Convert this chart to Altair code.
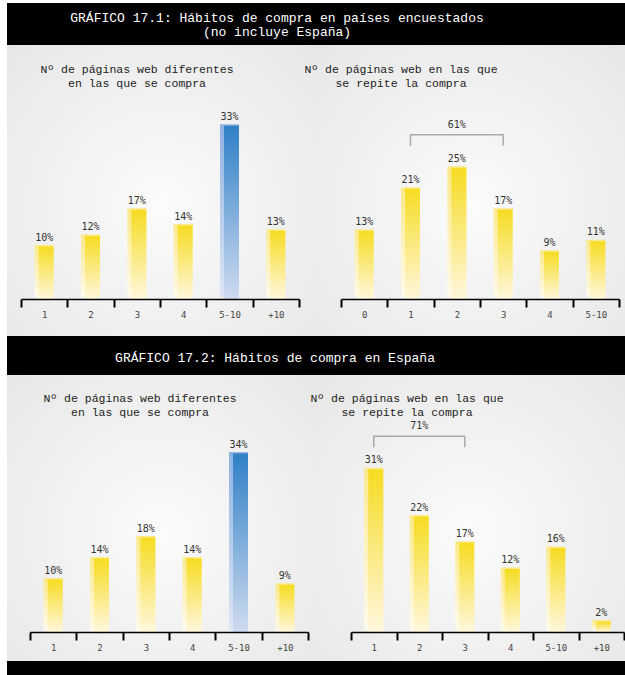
import altair as alt
import pandas as pd

# ---------------- data ----------------
cats_a = ["1", "2", "3", "4", "5-10", "+10"]
vals_a = [10, 12, 17, 14, 33, 13]
cats_b = ["0", "1", "2", "3", "4", "5-10"]
vals_b = [13, 21, 25, 17, 9, 11]
cats_c = ["1", "2", "3", "4", "5-10", "+10"]
vals_c = [10, 14, 18, 14, 34, 9]
cats_d = ["1", "2", "3", "4", "5-10", "+10"]
vals_d = [31, 22, 17, 12, 16, 2]
highlight_a = "5-10"
highlight_c = "5-10"
bracket_b = ("1", "3", "61%")
bracket_d = ("1", "3", "71%")

title_1 = ["GRÁFICO 17.1: Hábitos de compra en países encuestados", "(no incluye España)"]
title_2 = ["GRÁFICO 17.2: Hábitos de compra en España"]
sub_left = ["Nº de páginas web diferentes", "en las que se compra"]
sub_right = ["Nº de páginas web en las que", "se repite la compra"]

# ---------------- style ----------------
FONT_T = "Liberation Mono"
FONT_V = "DejaVu Sans Mono"
PX = 5.25
W = 309
WF = 618


def grad(c0, c1):
    return alt.LinearGradient(
        gradient="linear",
        stops=[alt.GradientStop(offset=0, color=c0), alt.GradientStop(offset=1, color=c1)],
        x1=0, x2=0, y1=0, y2=1,
    )


Y_FRONT = grad("#f6dc22", "#fff7dd")
Y_BACK = grad("#fbe98a", "#fffbec")
B_FRONT = grad("#2f80c6", "#cfdbf0")
B_BACK = grad("#8fb2e2", "#dde6f5")

BG = alt.RadialGradient(
    gradient="radial",
    stops=[alt.GradientStop(offset=0, color="#fbfbfb"), alt.GradientStop(offset=1, color="#e6e6e6")],
    x1=0.5, y1=0.55, r1=0, x2=0.5, y2=0.55, r2=0.75,
)

one = pd.DataFrame({"k": [0]})


def rect(w, h, fill):
    return alt.Chart(one).mark_rect(color=fill).encode(
        x=alt.value(0), x2=alt.value(w), y=alt.value(0), y2=alt.value(h)
    )


def text_line(t, x, y, font, size, color):
    return alt.Chart(one).mark_text(
        text=t, font=font, fontSize=size, color=color, align="center", baseline="middle"
    ).encode(x=alt.value(x), y=alt.value(y))


def panel(cats, vals, hi, h, base, xr, sub, sub_x, sub_y, bracket=None):
    df = pd.DataFrame({"cat": cats, "val": vals})
    df["lab"] = [f"{v}%" for v in vals]
    df["hi"] = [c == hi for c in cats]
    xs = alt.Scale(domain=cats, range=xr, paddingInner=0, paddingOuter=0)
    ys = alt.Scale(domain=[0, 40], range=[base, base - 40 * PX])
    axis = alt.Axis(
        title=None, orient="bottom", offset=-(h - base), labelAngle=0,
        domainColor="black", domainWidth=1.5, tickColor="black", tickWidth=2,
        tickSize=8, tickBand="extent", labelFont=FONT_V, labelFontSize=9,
        labelColor="#444", labelPadding=3, labelOverlap=False, grid=False, zindex=1,
    )
    xenc = alt.X("cat:N", scale=xs, sort=cats, axis=axis)
    yenc = alt.Y("val:Q", scale=ys, axis=None)
    bc = alt.Chart(df).encode(x=xenc, y=yenc)
    layers = [
        rect(W, h, BG),
        bc.transform_filter("!datum.hi").mark_bar(size=19, yOffset=-1.5, color=Y_BACK),
        bc.transform_filter("!datum.hi").mark_bar(size=15, xOffset=2, color=Y_FRONT),
        bc.transform_filter("datum.hi").mark_bar(size=19, yOffset=-1.5, color=B_BACK),
        bc.transform_filter("datum.hi").mark_bar(size=15, xOffset=2, color=B_FRONT),
        bc.mark_text(font=FONT_V, fontSize=10, color="#333", baseline="bottom", dy=-4).encode(text="lab:N"),
        text_line(sub[0], sub_x, sub_y, FONT_T, 11.5, "#222"),
        text_line(sub[1], sub_x, sub_y + 14, FONT_T, 11.5, "#222"),
    ]
    if bracket:
        a, b, lab = bracket
        ia, ib = cats.index(a), cats.index(b)
        lvl = max(vals[ia:ib + 1]) + 6.3
        ldf = pd.DataFrame({"cat": [a, a, b, b], "val": [lvl - 2.1, lvl, lvl, lvl - 2.1], "o": [0, 1, 2, 3]})
        layers.append(
            alt.Chart(ldf).mark_line(color="#aaaaaa", strokeWidth=1.5).encode(
                x=xenc, y=yenc, order="o:O"
            )
        )
        tdf = pd.DataFrame({"cat": [cats[(ia + ib) // 2]], "val": [lvl], "lab": [lab]})
        layers.append(
            alt.Chart(tdf).mark_text(font=FONT_V, fontSize=10, color="#333", baseline="bottom", dy=-5).encode(
                x=xenc, y=yenc, text="lab:N"
            )
        )
    return alt.layer(*layers).properties(width=W, height=h)


def header(lines, x, ys, h):
    layers = [rect(WF, h, "black")]
    for t, y in zip(lines, ys):
        layers.append(text_line(t, x, y, FONT_T, 13, "white"))
    return alt.layer(*layers).properties(width=WF, height=h)


H1, B1 = 291, 254
H2, B2 = 286, 257

pA = panel(cats_a, vals_a, highlight_a, H1, B1, [14, 292], sub_left, 130, 25)
pB = panel(cats_b, vals_b, None, H1, B1, [25, 303], sub_right, 85, 25, bracket_b)
pC = panel(cats_c, vals_c, highlight_c, H2, B2, [23, 301], sub_left, 133, 24)
pD = panel(cats_d, vals_d, None, H2, B2, [35, 308], sub_right, 91, 24, bracket_d)

h1 = header(title_1, 270, [15, 29], 42)
h2 = header(title_2, 268, [22], 39)
foot = alt.layer(rect(WF, 14, "black")).properties(width=WF, height=14)

row1 = alt.hconcat(pA, pB, spacing=0, bounds="flush")
row2 = alt.hconcat(pC, pD, spacing=0, bounds="flush")

chart = (
    alt.vconcat(h1, row1, h2, row2, foot, spacing=0, bounds="full")
    .properties(padding={"left": 7, "top": 3, "right": 0, "bottom": 0})
    .configure(background="white")
    .configure_view(strokeWidth=0)
)

chart.save("out.html", embed_options={"renderer": "svg", "actions": False})
